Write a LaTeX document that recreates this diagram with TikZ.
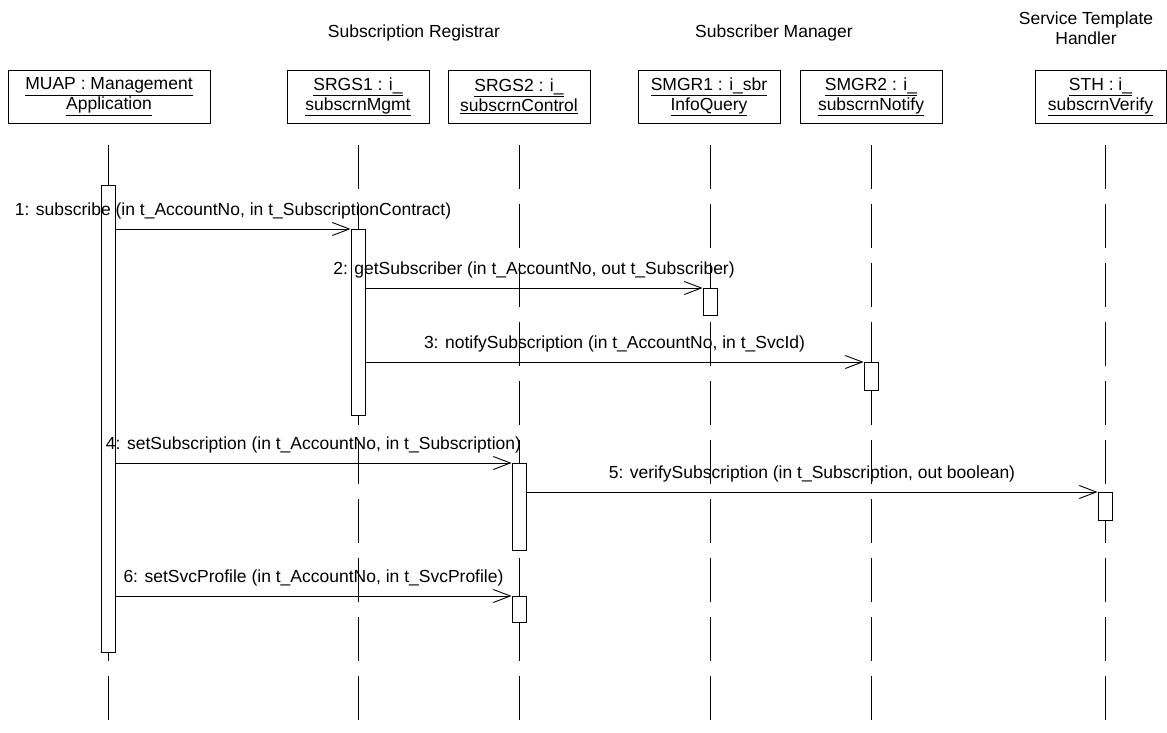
\documentclass[tikz,border=0pt]{standalone}
\usepackage{fontspec}
\setmainfont{Liberation Sans}
\usetikzlibrary{arrows.meta}
\begin{document}
\begin{tikzpicture}[x=1pt,y=-1pt,
  font=\fontsize{17.5}{20}\selectfont,
  line width=0.9pt,
  objbox/.style={draw, minimum height=53pt, minimum width=142pt, inner sep=0pt, align=center},
  grouplabel/.style={align=center, inner sep=0pt},
  lifeline/.style={dash pattern=on 44pt off 15pt},
  actbox/.style={draw, fill=white, minimum width=14pt, inner sep=0pt, anchor=north},
  msg/.style={-{Straight Barb[length=17pt,width=13pt]}},
  msglabel/.style={midway, anchor=base, yshift=14pt, inner sep=0pt}
]
\useasboundingbox (0,0) rectangle (1167,733);

% component groups
\node[grouplabel] (grpSR) at (414,33) {Subscription Registrar};
\node[grouplabel] (grpSM) at (774,33) {Subscriber Manager};
\node[grouplabel] (grpST) at (1086,28) {Service Template\\Handler};

% participants
\node[objbox, minimum width=202pt] (muap) at (109,96.5) {\underline{MUAP : Management}\\\underline{Application}};
\node[objbox] (srgs1) at (358,96.5) {\underline{SRGS1 : i\_}\\\underline{subscrnMgmt}};
\node[objbox] (srgs2) at (519,96.5) {\underline{SRGS2 : i\_}\\\underline{subscrnControl}};
\node[objbox] (smgr1) at (709,96.5) {\underline{SMGR1 : i\_sbr}\\\underline{InfoQuery}};
\node[objbox] (smgr2) at (871,96.5) {\underline{SMGR2 : i\_}\\\underline{subscrnNotify}};
\node[objbox, minimum width=131pt] (sth) at (1100.5,96.5) {\underline{STH : i\_}\\\underline{subscrnVerify}};

% lifeline ends
\coordinate (tMuap) at (108,145);   \coordinate (bMuap) at (108,733);
\coordinate (tSrgs1) at (358,145);  \coordinate (bSrgs1) at (358,733);
\coordinate (tSrgs2) at (519,145);  \coordinate (bSrgs2) at (519,733);
\coordinate (tSmgr1) at (710,145);  \coordinate (bSmgr1) at (710,733);
\coordinate (tSmgr2) at (871,145);  \coordinate (bSmgr2) at (871,733);
\coordinate (tSth) at (1105,145);   \coordinate (bSth) at (1105,733);

\draw[lifeline] (tMuap) -- (bMuap);
\draw[lifeline] (tSrgs1) -- (bSrgs1);
\draw[lifeline] (tSrgs2) -- (bSrgs2);
\draw[lifeline] (tSmgr1) -- (bSmgr1);
\draw[lifeline] (tSmgr2) -- (bSmgr2);
\draw[lifeline] (tSth) -- (bSth);

% activations
\node[actbox, minimum height=467pt] (muapAct) at (108,185) {};
\node[actbox, minimum height=186pt] (srgs1Act) at (358,229) {};
\node[actbox, minimum height=27pt] (smgr1Act) at (710,288) {};
\node[actbox, minimum height=28pt] (smgr2Act) at (871,362) {};
\node[actbox, minimum height=87pt] (srgs2ActA) at (519,463) {};
\node[actbox, minimum height=28pt] (sthAct) at (1105,492) {};
\node[actbox, minimum height=26pt] (srgs2ActB) at (519,596) {};

% messages
\draw[msg] (muapAct.east |- srgs1Act.north west) -- node[msglabel] {1: subscribe (in t\_AccountNo, in t\_SubscriptionContract)} (srgs1Act.north west);
\draw[msg] (srgs1Act.east |- smgr1Act.north west) -- node[msglabel] {2: getSubscriber (in t\_AccountNo, out t\_Subscriber)} (smgr1Act.north west);
\draw[msg] (srgs1Act.east |- smgr2Act.north west) -- node[msglabel] {3: notifySubscription (in t\_AccountNo, in t\_SvcId)} (smgr2Act.north west);
\draw[msg] (muapAct.east |- srgs2ActA.north west) -- node[msglabel] {4: setSubscription (in t\_AccountNo, in t\_Subscription)} (srgs2ActA.north west);
\draw[msg] (srgs2ActA.east |- sthAct.north west) -- node[msglabel] {5: verifySubscription (in t\_Subscription, out boolean)} (sthAct.north west);
\draw[msg] (muapAct.east |- srgs2ActB.north west) -- node[msglabel] {6: setSvcProfile (in t\_AccountNo, in t\_SvcProfile)} (srgs2ActB.north west);
\end{tikzpicture}
\end{document}
